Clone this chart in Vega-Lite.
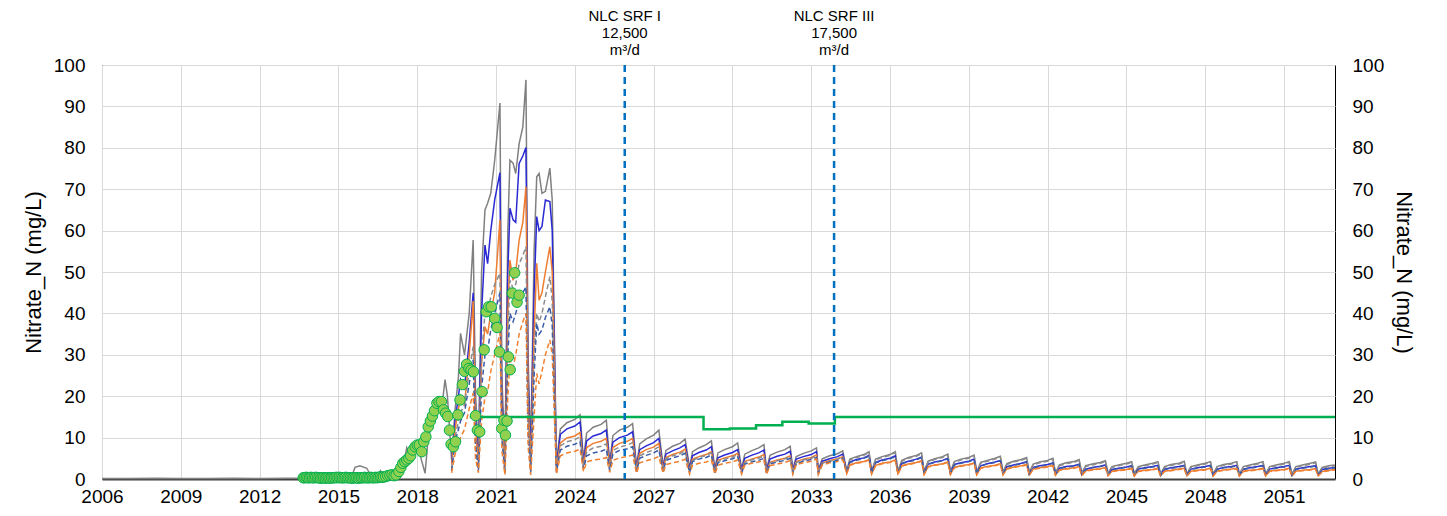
{
"$schema": "https://vega.github.io/schema/vega-lite/v6.json",
"width": 1233, "height": 414,
"autosize": {"type": "none"},
"padding": {"left": 102, "top": 65, "right": 112, "bottom": 37},
"background": "white",
"config": {
 "font": "Liberation Sans",
 "view": {"stroke": "#000000", "strokeWidth": 1},
 "axis": {"labelFont": "Liberation Sans", "labelFontSize": 19, "labelColor": "#000000", "titleFont": "Liberation Sans", "titleFontSize": 22, "titleFontWeight": "normal", "titleColor": "#000000", "gridColor": "#d9d9d9", "gridWidth": 1, "ticks": false, "tickSize": 0, "domain": false, "labelOverlap": false, "labelFlush": false}
},
"datasets": {
 "sim": [
  {"t":2006,"g":0.1},{"t":2007,"g":0.1},{"t":2008,"g":0.2},{"t":2009,"g":0.1},{"t":2010,"g":0.1},{"t":2011,"g":0.2},{"t":2012,"g":0.1},{"t":2013,"g":0.2},{"t":2014,"g":0.2},{"t":2015,"g":0.3},{"t":2015.5,"g":0.5},{"t":2015.63,"g":2.8},{"t":2015.82,"g":3.2},{"t":2016.08,"g":2.6},{"t":2016.2,"g":1.2},{"t":2016.4,"g":0.6},{"t":2016.52,"g":1.2},{"t":2016.6,"g":2.0},{"t":2016.7,"g":0.9},{"t":2016.9,"g":0.8},{"t":2017.1,"g":1.0},{"t":2017.25,"g":1.5},{"t":2017.4,"g":3.0},{"t":2017.5,"g":4.0},{"t":2017.6,"g":7.5},{"t":2017.7,"g":6.0},{"t":2017.85,"g":7.0},{"t":2017.98,"g":8.7},{"t":2018.1,"g":6.0},{"t":2018.3,"g":1.4},{"t":2018.42,"g":10.2},{"t":2018.52,"g":12.0},{"t":2018.62,"g":14.5},{"t":2018.72,"g":16.7},{"t":2018.82,"g":19.0},{"t":2018.93,"g":17.0},{"t":2019.06,"g":24.0},{"t":2019.15,"g":20.0},
  {"t":2019.31,"g":4.6,"b":4.0,"o":3.5,"gd":2.5,"bd":2.0,"od":1.5},
  {"t":2019.44,"g":16.7,"b":14,"o":12,"gd":10,"bd":9,"od":6},
  {"t":2019.57,"g":24.7,"b":20,"o":17,"gd":14,"bd":12,"od":8.5},
  {"t":2019.65,"g":35.2,"b":24,"o":20,"gd":16,"bd":14,"od":10},
  {"t":2019.8,"g":30,"b":22,"o":18,"gd":18,"bd":16,"od":12},
  {"t":2019.98,"g":40,"b":33,"o":30,"gd":26,"bd":23,"od":17},
  {"t":2020.13,"g":57.7,"b":45,"o":43,"gd":32,"bd":28.7,"od":20.8},
  {"t":2020.22,"g":20.8,"b":15,"o":12,"gd":10,"bd":8,"od":5},
  {"t":2020.33,"g":5.4,"b":4.5,"o":4.0,"gd":2.5,"bd":2.0,"od":1.5},
  {"t":2020.45,"g":50,"b":40,"o":28,"gd":30,"bd":22,"od":14},
  {"t":2020.58,"g":65,"b":56.5,"o":36.8,"gd":40,"bd":30,"od":19.8},
  {"t":2020.68,"g":66.6,"b":52,"o":35,"gd":40,"bd":31,"od":21},
  {"t":2020.8,"g":69,"b":60,"o":40,"gd":44,"bd":36,"od":26},
  {"t":2020.95,"g":77,"b":67.4,"o":45,"gd":47,"bd":40,"od":30},
  {"t":2021.15,"g":90.8,"b":74,"o":62.6,"gd":49.7,"bd":45,"od":35.3},
  {"t":2021.22,"g":25,"b":20,"o":15,"gd":12,"bd":10,"od":7},
  {"t":2021.34,"g":6.2,"b":4.5,"o":3.5,"gd":2,"bd":1.5,"od":1},
  {"t":2021.45,"g":60,"b":50,"o":40,"gd":35,"bd":30,"od":20},
  {"t":2021.53,"g":77,"b":65.4,"o":52.9,"gd":48,"bd":40,"od":28.7},
  {"t":2021.65,"g":76.3,"b":62.6,"o":48,"gd":46,"bd":38,"od":27},
  {"t":2021.75,"g":73.8,"b":62,"o":50,"gd":47,"bd":40,"od":30},
  {"t":2021.88,"g":81,"b":76.2,"o":57.7,"gd":52,"bd":43,"od":35},
  {"t":2022.02,"g":85,"b":78,"o":62,"gd":54,"bd":45,"od":38},
  {"t":2022.14,"g":96.4,"b":80.1,"o":70.6,"gd":56.1,"bd":46.4,"od":40},
  {"t":2022.22,"g":30,"b":25,"o":20,"gd":15,"bd":12,"od":8},
  {"t":2022.32,"g":6.2,"b":4.5,"o":3.0,"gd":2,"bd":1.5,"od":1},
  {"t":2022.45,"g":55,"b":45,"o":35,"gd":30,"bd":25,"od":15},
  {"t":2022.55,"g":73,"b":63.4,"o":52.1,"gd":40,"bd":37.6,"od":25.5},
  {"t":2022.64,"g":73.8,"b":60,"o":43.2,"gd":38,"bd":35,"od":23},
  {"t":2022.75,"g":69,"b":61,"o":45,"gd":40,"bd":36,"od":26},
  {"t":2022.88,"g":69.5,"b":67.4,"o":50,"gd":44,"bd":39,"od":30},
  {"t":2023.05,"g":75.1,"b":67,"o":56.1,"gd":48.9,"bd":41.6,"od":33.6},
  {"t":2023.14,"g":67.4,"b":60,"o":50,"gd":43,"bd":37,"od":30},
  {"t":2023.3,"g":3.8,"b":3.2,"o":2.6,"gd":2.0,"bd":1.6,"od":1.2},
  {"t":2023.45,"g":12.1,"b":10.8,"o":8.7,"gd":8.0,"bd":7.0,"od":5.6},
  {"t":2023.7,"g":13.6,"b":12.1,"o":9.9,"gd":9.0,"bd":7.9,"od":6.3},
  {"t":2024.0,"g":14.4,"b":12.8,"o":10.4,"gd":9.5,"bd":8.4,"od":6.7},
  {"t":2024.2,"g":15.5,"b":13.8,"o":11.2,"gd":10.2,"bd":9.0,"od":7.2},
  {"t":2024.33,"g":4.6,"b":4.0,"o":3.4,"gd":2.8,"bd":2.4,"od":1.8},
  {"t":2024.45,"g":11.1,"b":9.2,"o":7.6,"gd":6.6,"bd":5.6,"od":4.1},
  {"t":2024.7,"g":12.5,"b":10.4,"o":8.6,"gd":7.5,"bd":6.3,"od":4.6},
  {"t":2025.0,"g":13.2,"b":11.0,"o":9.1,"gd":7.9,"bd":6.7,"od":4.8},
  {"t":2025.2,"g":14.2,"b":11.8,"o":9.8,"gd":8.5,"bd":7.2,"od":5.2},
  {"t":2025.33,"g":3.8,"b":3.4,"o":3.0,"gd":2.4,"bd":2.0,"od":1.6},
  {"t":2025.45,"g":10.5,"b":8.9,"o":7.6,"gd":6.9,"bd":6.1,"od":4.5},
  {"t":2025.7,"g":11.8,"b":10.0,"o":8.6,"gd":7.7,"bd":6.9,"od":5.1},
  {"t":2026.0,"g":12.5,"b":10.6,"o":9.1,"gd":8.2,"bd":7.3,"od":5.4},
  {"t":2026.2,"g":13.4,"b":11.4,"o":9.8,"gd":8.8,"bd":7.8,"od":5.8},
  {"t":2026.35,"g":3.0,"b":2.8,"o":2.4,"gd":2.0,"bd":1.8,"od":1.4},
  {"t":2026.47,"g":8.5,"b":7.1,"o":6.2,"gd":5.6,"bd":5.0,"od":3.9},
  {"t":2026.72,"g":9.7,"b":8.0,"o":7.1,"gd":6.4,"bd":5.7,"od":4.4},
  {"t":2027.0,"g":10.6,"b":8.8,"o":7.7,"gd":7.0,"bd":6.3,"od":4.9},
  {"t":2027.2,"g":11.8,"b":9.8,"o":8.6,"gd":7.8,"bd":7.0,"od":5.4},
  {"t":2027.36,"g":3.0,"b":2.8,"o":2.4,"gd":2.0,"bd":1.8,"od":1.4},
  {"t":2027.47,"g":6.9,"b":6.0,"o":5.2,"gd":4.9,"bd":4.5,"od":3.5},
  {"t":2027.72,"g":7.9,"b":6.8,"o":5.9,"gd":5.6,"bd":5.1,"od":3.9},
  {"t":2028.0,"g":8.6,"b":7.5,"o":6.5,"gd":6.1,"bd":5.6,"od":4.3},
  {"t":2028.2,"g":9.6,"b":8.3,"o":7.2,"gd":6.8,"bd":6.2,"od":4.8},
  {"t":2028.37,"g":2.6,"b":2.4,"o":2.0,"gd":1.8,"bd":1.6,"od":1.2},
  {"t":2028.48,"g":6.6,"b":5.6,"o":4.8,"gd":4.5,"bd":4.2,"od":3.3},
  {"t":2028.72,"g":7.5,"b":6.4,"o":5.4,"gd":5.2,"bd":4.8,"od":3.8},
  {"t":2029.0,"g":8.3,"b":7.0,"o":5.9,"gd":5.7,"bd":5.2,"od":4.1},
  {"t":2029.2,"g":9.2,"b":7.8,"o":6.6,"gd":6.3,"bd":5.8,"od":4.6},
  {"t":2029.33,"g":2.4,"b":2.2,"o":1.8,"gd":1.7,"bd":1.5,"od":1.2},
  {"t":2029.45,"g":6.3,"b":5.1,"o":4.5,"gd":4.2,"bd":3.9,"od":3.3},
  {"t":2029.7,"g":7.1,"b":5.8,"o":5.1,"gd":4.8,"bd":4.4,"od":3.8},
  {"t":2030.0,"g":7.8,"b":6.4,"o":5.6,"gd":5.3,"bd":4.9,"od":4.1},
  {"t":2030.2,"g":8.7,"b":7.1,"o":6.2,"gd":5.9,"bd":5.4,"od":4.6},
  {"t":2030.35,"g":2.4,"b":2.2,"o":1.8,"gd":1.7,"bd":1.5,"od":1.2},
  {"t":2030.47,"g":6.0,"b":5.0,"o":4.2,"gd":4.0,"bd":3.6,"od":3.3},
  {"t":2030.72,"g":6.8,"b":5.7,"o":4.8,"gd":4.6,"bd":4.1,"od":3.8},
  {"t":2031.0,"g":7.5,"b":6.3,"o":5.3,"gd":5.0,"bd":4.5,"od":4.1},
  {"t":2031.2,"g":8.3,"b":7.0,"o":5.9,"gd":5.6,"bd":5.0,"od":4.6},
  {"t":2031.3,"g":2.3,"b":2.1,"o":1.7,"gd":1.6,"bd":1.4,"od":1.1},
  {"t":2031.43,"g":5.7,"b":4.8,"o":4.0,"gd":3.9,"bd":3.6,"od":3.2},
  {"t":2031.7,"g":6.5,"b":5.5,"o":4.6,"gd":4.4,"bd":4.1,"od":3.6},
  {"t":2032.0,"g":7.1,"b":6.0,"o":5.0,"gd":4.9,"bd":4.5,"od":4.0},
  {"t":2032.2,"g":7.9,"b":6.7,"o":5.6,"gd":5.4,"bd":5.0,"od":4.4},
  {"t":2032.3,"g":2.3,"b":2.1,"o":1.7,"gd":1.6,"bd":1.4,"od":1.1},
  {"t":2032.43,"g":5.4,"b":4.8,"o":4.2,"gd":4.0,"bd":3.7,"od":3.5},
  {"t":2032.7,"g":6.2,"b":5.4,"o":4.8,"gd":4.6,"bd":4.3,"od":3.9},
  {"t":2033.0,"g":6.8,"b":5.9,"o":5.2,"gd":5.0,"bd":4.7,"od":4.3},
  {"t":2033.2,"g":7.5,"b":6.6,"o":5.8,"gd":5.6,"bd":5.2,"od":4.8},
  {"t":2033.27,"g":2.2,"b":2.0,"o":1.6,"gd":1.5,"bd":1.4,"od":1.1},
  {"t":2033.42,"g":4.9,"b":4.3,"o":3.9,"gd":3.8,"bd":3.6,"od":3.4},
  {"t":2033.7,"g":5.6,"b":4.9,"o":4.4,"gd":4.3,"bd":4.1,"od":3.9},
  {"t":2034.0,"g":6.1,"b":5.4,"o":4.9,"gd":4.8,"bd":4.5,"od":4.2},
  {"t":2034.2,"g":6.8,"b":6.0,"o":5.4,"gd":5.3,"bd":5.0,"od":4.7},
  {"t":2034.35,"g":2.0,"b":1.8,"o":1.4,"gd":1.9,"bd":1.7,"od":1.3},
  {"t":2034.47,"g":4.8,"b":4.1,"o":3.4,"gd":4.6,"bd":4.0,"od":3.3},
  {"t":2034.72,"g":5.4,"b":4.7,"o":3.9,"gd":5.2,"bd":4.5,"od":3.8},
  {"t":2035.0,"g":5.9,"b":5.1,"o":4.2,"gd":5.7,"bd":5.0,"od":4.1},
  {"t":2035.2,"g":6.6,"b":5.7,"o":4.7,"gd":6.4,"bd":5.5,"od":4.6},
  {"t":2035.3,"g":1.9,"b":1.6,"o":1.3,"gd":1.8,"bd":1.5,"od":1.2},
  {"t":2035.45,"g":4.8,"b":4.0,"o":3.3,"gd":4.6,"bd":3.9,"od":3.2},
  {"t":2035.7,"g":5.4,"b":4.6,"o":3.8,"gd":5.2,"bd":4.4,"od":3.7},
  {"t":2036.0,"g":5.9,"b":5.0,"o":4.1,"gd":5.7,"bd":4.9,"od":4.0},
  {"t":2036.2,"g":6.6,"b":5.6,"o":4.6,"gd":6.4,"bd":5.4,"od":4.5},
  {"t":2036.3,"g":1.9,"b":1.6,"o":1.3,"gd":1.8,"bd":1.5,"od":1.2},
  {"t":2036.45,"g":4.5,"b":3.8,"o":3.2,"gd":4.3,"bd":3.7,"od":3.1},
  {"t":2036.7,"g":5.2,"b":4.3,"o":3.6,"gd":5.0,"bd":4.2,"od":3.5},
  {"t":2037.0,"g":5.7,"b":4.8,"o":4.0,"gd":5.5,"bd":4.6,"od":3.9},
  {"t":2037.2,"g":6.3,"b":5.3,"o":4.4,"gd":6.1,"bd":5.2,"od":4.3},
  {"t":2037.3,"g":1.8,"b":1.5,"o":1.2,"gd":1.7,"bd":1.4,"od":1.1},
  {"t":2037.45,"g":4.3,"b":3.6,"o":3.0,"gd":4.1,"bd":3.5,"od":2.9},
  {"t":2037.7,"g":4.9,"b":4.1,"o":3.4,"gd":4.7,"bd":4.0,"od":3.3},
  {"t":2038.0,"g":5.4,"b":4.5,"o":3.7,"gd":5.2,"bd":4.4,"od":3.6},
  {"t":2038.2,"g":6.0,"b":5.0,"o":4.1,"gd":5.8,"bd":4.9,"od":4.0},
  {"t":2038.3,"g":1.8,"b":1.5,"o":1.2,"gd":1.7,"bd":1.4,"od":1.1},
  {"t":2038.45,"g":4.2,"b":3.5,"o":2.8,"gd":4.0,"bd":3.4,"od":2.7},
  {"t":2038.7,"g":4.8,"b":3.9,"o":3.2,"gd":4.6,"bd":3.8,"od":3.1},
  {"t":2039.0,"g":5.2,"b":4.3,"o":3.5,"gd":5.0,"bd":4.2,"od":3.4},
  {"t":2039.2,"g":5.8,"b":4.8,"o":3.9,"gd":5.6,"bd":4.7,"od":3.8},
  {"t":2039.3,"g":1.7,"b":1.4,"o":1.1,"gd":1.6,"bd":1.3,"od":1.0},
  {"t":2039.45,"g":4.0,"b":3.2,"o":2.7,"gd":3.8,"bd":3.1,"od":2.6},
  {"t":2039.7,"g":4.5,"b":3.7,"o":3.0,"gd":4.3,"bd":3.6,"od":2.9},
  {"t":2040.0,"g":5.0,"b":4.1,"o":3.3,"gd":4.8,"bd":4.0,"od":3.2},
  {"t":2040.2,"g":5.5,"b":4.5,"o":3.7,"gd":5.3,"bd":4.4,"od":3.6},
  {"t":2040.3,"g":1.7,"b":1.4,"o":1.1,"gd":1.6,"bd":1.3,"od":1.0},
  {"t":2040.45,"g":3.7,"b":3.0,"o":2.5,"gd":3.5,"bd":2.9,"od":2.4},
  {"t":2040.7,"g":4.3,"b":3.4,"o":2.9,"gd":4.1,"bd":3.3,"od":2.8},
  {"t":2041.0,"g":4.7,"b":3.8,"o":3.2,"gd":4.5,"bd":3.7,"od":3.1},
  {"t":2041.2,"g":5.2,"b":4.2,"o":3.5,"gd":5.0,"bd":4.1,"od":3.4},
  {"t":2041.3,"g":1.6,"b":1.3,"o":1.0,"gd":1.5,"bd":1.2,"od":0.9},
  {"t":2041.45,"g":3.6,"b":2.8,"o":2.4,"gd":3.4,"bd":2.7,"od":2.3},
  {"t":2041.7,"g":4.1,"b":3.2,"o":2.7,"gd":3.9,"bd":3.1,"od":2.6},
  {"t":2042.0,"g":4.5,"b":3.5,"o":3.0,"gd":4.3,"bd":3.4,"od":2.9},
  {"t":2042.2,"g":5.0,"b":3.9,"o":3.3,"gd":4.8,"bd":3.8,"od":3.2},
  {"t":2042.3,"g":1.5,"b":1.2,"o":1.0,"gd":1.4,"bd":1.1,"od":0.9},
  {"t":2042.45,"g":3.4,"b":2.6,"o":2.2,"gd":3.2,"bd":2.5,"od":2.1},
  {"t":2042.7,"g":3.9,"b":3.0,"o":2.5,"gd":3.7,"bd":2.9,"od":2.4},
  {"t":2043.0,"g":4.2,"b":3.2,"o":2.7,"gd":4.0,"bd":3.1,"od":2.6},
  {"t":2043.2,"g":4.7,"b":3.6,"o":3.0,"gd":4.5,"bd":3.5,"od":2.9},
  {"t":2043.3,"g":1.5,"b":1.2,"o":0.9,"gd":1.4,"bd":1.1,"od":0.8},
  {"t":2043.45,"g":3.2,"b":2.4,"o":2.0,"gd":3.0,"bd":2.3,"od":1.9},
  {"t":2043.7,"g":3.6,"b":2.8,"o":2.3,"gd":3.4,"bd":2.7,"od":2.2},
  {"t":2044.0,"g":4.0,"b":3.1,"o":2.5,"gd":3.8,"bd":3.0,"od":2.4},
  {"t":2044.2,"g":4.4,"b":3.4,"o":2.8,"gd":4.2,"bd":3.3,"od":2.7},
  {"t":2044.3,"g":1.4,"b":1.1,"o":0.9,"gd":1.3,"bd":1.0,"od":0.8},
  {"t":2044.45,"g":3.0,"b":2.3,"o":1.9,"gd":2.8,"bd":2.2,"od":1.8},
  {"t":2044.7,"g":3.4,"b":2.6,"o":2.1,"gd":3.2,"bd":2.5,"od":2.0},
  {"t":2045.0,"g":3.8,"b":2.9,"o":2.3,"gd":3.6,"bd":2.8,"od":2.2},
  {"t":2045.2,"g":4.2,"b":3.2,"o":2.6,"gd":4.0,"bd":3.1,"od":2.5},
  {"t":2045.3,"g":1.3,"b":1.0,"o":0.8,"gd":1.2,"bd":0.9,"od":0.7},
  {"t":2045.45,"g":3.0,"b":2.4,"o":1.9,"gd":2.8,"bd":2.3,"od":1.8},
  {"t":2045.7,"g":3.4,"b":2.7,"o":2.1,"gd":3.2,"bd":2.6,"od":2.0},
  {"t":2046.0,"g":3.8,"b":3.0,"o":2.3,"gd":3.6,"bd":2.9,"od":2.2},
  {"t":2046.2,"g":4.2,"b":3.3,"o":2.6,"gd":4.0,"bd":3.2,"od":2.5},
  {"t":2046.3,"g":1.2,"b":1.0,"o":0.8,"gd":1.1,"bd":0.9,"od":0.7},
  {"t":2046.45,"g":3.0,"b":2.4,"o":1.9,"gd":2.8,"bd":2.3,"od":1.8},
  {"t":2046.7,"g":3.5,"b":2.7,"o":2.1,"gd":3.3,"bd":2.6,"od":2.0},
  {"t":2047.0,"g":3.8,"b":3.0,"o":2.4,"gd":3.6,"bd":2.9,"od":2.3},
  {"t":2047.2,"g":4.3,"b":3.3,"o":2.6,"gd":4.1,"bd":3.2,"od":2.5},
  {"t":2047.3,"g":1.2,"b":1.0,"o":0.8,"gd":1.1,"bd":0.9,"od":0.7},
  {"t":2047.45,"g":3.0,"b":2.4,"o":1.9,"gd":2.8,"bd":2.3,"od":1.8},
  {"t":2047.7,"g":3.4,"b":2.7,"o":2.1,"gd":3.2,"bd":2.6,"od":2.0},
  {"t":2048.0,"g":3.8,"b":3.0,"o":2.3,"gd":3.6,"bd":2.9,"od":2.2},
  {"t":2048.2,"g":4.2,"b":3.3,"o":2.6,"gd":4.0,"bd":3.2,"od":2.5},
  {"t":2048.3,"g":1.2,"b":1.0,"o":0.8,"gd":1.1,"bd":0.9,"od":0.7},
  {"t":2048.45,"g":3.0,"b":2.4,"o":1.9,"gd":2.8,"bd":2.3,"od":1.8},
  {"t":2048.7,"g":3.5,"b":2.8,"o":2.2,"gd":3.3,"bd":2.7,"od":2.1},
  {"t":2049.0,"g":3.8,"b":3.0,"o":2.4,"gd":3.6,"bd":2.9,"od":2.3},
  {"t":2049.2,"g":4.2,"b":3.3,"o":2.6,"gd":4.0,"bd":3.2,"od":2.5},
  {"t":2049.3,"g":1.2,"b":1.0,"o":0.8,"gd":1.1,"bd":0.9,"od":0.7},
  {"t":2049.45,"g":3.0,"b":2.4,"o":1.9,"gd":2.8,"bd":2.3,"od":1.8},
  {"t":2049.7,"g":3.4,"b":2.7,"o":2.1,"gd":3.2,"bd":2.6,"od":2.0},
  {"t":2050.0,"g":3.8,"b":3.0,"o":2.3,"gd":3.6,"bd":2.9,"od":2.2},
  {"t":2050.2,"g":4.2,"b":3.3,"o":2.6,"gd":4.0,"bd":3.2,"od":2.5},
  {"t":2050.3,"g":1.2,"b":1.0,"o":0.8,"gd":1.1,"bd":0.9,"od":0.7},
  {"t":2050.45,"g":3.0,"b":2.4,"o":1.9,"gd":2.8,"bd":2.3,"od":1.8},
  {"t":2050.7,"g":3.4,"b":2.7,"o":2.1,"gd":3.2,"bd":2.6,"od":2.0},
  {"t":2051.0,"g":3.8,"b":3.0,"o":2.3,"gd":3.6,"bd":2.9,"od":2.2},
  {"t":2051.2,"g":4.2,"b":3.3,"o":2.6,"gd":4.0,"bd":3.2,"od":2.5},
  {"t":2051.3,"g":1.2,"b":1.0,"o":0.8,"gd":1.1,"bd":0.9,"od":0.7},
  {"t":2051.45,"g":3.0,"b":2.4,"o":1.9,"gd":2.8,"bd":2.3,"od":1.8},
  {"t":2051.7,"g":3.4,"b":2.7,"o":2.1,"gd":3.2,"bd":2.6,"od":2.0},
  {"t":2052.0,"g":3.8,"b":3.0,"o":2.3,"gd":3.6,"bd":2.9,"od":2.2},
  {"t":2052.2,"g":4.1,"b":3.2,"o":2.5,"gd":3.9,"bd":3.1,"od":2.4},
  {"t":2052.3,"g":1.2,"b":1.0,"o":0.8,"gd":1.1,"bd":0.9,"od":0.7},
  {"t":2052.45,"g":2.8,"b":2.3,"o":1.8,"gd":2.6,"bd":2.2,"od":1.7},
  {"t":2052.7,"g":3.2,"b":2.6,"o":2.1,"gd":3.0,"bd":2.5,"od":2.0},
  {"t":2052.94,"g":3.4,"b":2.8,"o":2.3,"gd":3.2,"bd":2.7,"od":2.2}
 ],
 "obs": [
  {"t":2013.66,"v":0.3},{"t":2013.72,"v":0.3},{"t":2013.78,"v":0.4},{"t":2013.84,"v":0.3},{"t":2013.9,"v":0.3},{"t":2013.96,"v":0.4},{"t":2014.02,"v":0.3},{"t":2014.08,"v":0.3},{"t":2014.14,"v":0.4},{"t":2014.2,"v":0.3},{"t":2014.26,"v":0.3},{"t":2014.32,"v":0.2},{"t":2014.38,"v":0.3},{"t":2014.44,"v":0.3},{"t":2014.5,"v":0.2},{"t":2014.56,"v":0.3},{"t":2014.62,"v":0.3},{"t":2014.68,"v":0.2},{"t":2014.74,"v":0.3},{"t":2014.8,"v":0.3},{"t":2014.86,"v":0.3},{"t":2014.92,"v":0.4},{"t":2014.98,"v":0.3},{"t":2015.04,"v":0.4},{"t":2015.1,"v":0.3},{"t":2015.16,"v":0.3},{"t":2015.22,"v":0.3},{"t":2015.28,"v":0.4},{"t":2015.34,"v":0.3},{"t":2015.4,"v":0.3},{"t":2015.46,"v":0.3},{"t":2015.52,"v":0.2},{"t":2015.58,"v":0.3},{"t":2015.64,"v":0.3},{"t":2015.7,"v":0.3},{"t":2015.76,"v":0.2},{"t":2015.82,"v":0.3},{"t":2015.88,"v":0.3},{"t":2015.94,"v":0.3},{"t":2016.0,"v":0.4},{"t":2016.06,"v":0.3},{"t":2016.12,"v":0.3},{"t":2016.18,"v":0.3},{"t":2016.24,"v":0.4},{"t":2016.3,"v":0.3},{"t":2016.36,"v":0.3},{"t":2016.42,"v":0.4},{"t":2016.48,"v":0.3},{"t":2016.54,"v":0.4},{"t":2016.6,"v":0.5},{"t":2016.66,"v":0.4},{"t":2016.72,"v":0.5},{"t":2016.8,"v":0.6},{"t":2016.88,"v":0.8},{"t":2016.96,"v":0.9},{"t":2017.04,"v":1.0},{"t":2017.12,"v":0.8},
  {"t":2017.2,"v":1.0},{"t":2017.3,"v":1.8},{"t":2017.38,"v":2.8},{"t":2017.45,"v":3.8},{"t":2017.53,"v":4.2},{"t":2017.6,"v":4.6},{"t":2017.68,"v":5.0},{"t":2017.75,"v":5.6},{"t":2017.83,"v":7.0},{"t":2017.92,"v":7.8},{"t":2018.0,"v":8.2},{"t":2018.08,"v":8.2},{"t":2018.17,"v":6.6},{"t":2018.25,"v":9.0},{"t":2018.33,"v":10.2},{"t":2018.42,"v":12.6},{"t":2018.5,"v":14.0},{"t":2018.58,"v":15.2},{"t":2018.66,"v":16.5},{"t":2018.75,"v":18.3},{"t":2018.83,"v":18.7},{"t":2018.92,"v":18.7},{"t":2019.0,"v":16.7},{"t":2019.08,"v":15.9},{"t":2019.16,"v":15.1},{"t":2019.23,"v":11.8},{"t":2019.29,"v":8.4},{"t":2019.38,"v":7.8},{"t":2019.46,"v":9.0},{"t":2019.55,"v":15.5},{"t":2019.63,"v":19.1},{"t":2019.72,"v":22.8},{"t":2019.8,"v":26.0},{"t":2019.88,"v":27.7},{"t":2019.97,"v":26.7},{"t":2020.05,"v":26.3},{"t":2020.14,"v":25.9},{"t":2020.22,"v":15.3},{"t":2020.29,"v":11.8},{"t":2020.38,"v":11.4},{"t":2020.47,"v":21.1},{"t":2020.55,"v":31.2},{"t":2020.63,"v":40.4},{"t":2020.72,"v":41.6},{"t":2020.82,"v":41.6},{"t":2020.95,"v":38.8},{"t":2021.04,"v":36.6},{"t":2021.13,"v":30.7},{"t":2021.22,"v":12.2},{"t":2021.3,"v":14.2},{"t":2021.36,"v":10.6},{"t":2021.42,"v":14.0},{"t":2021.47,"v":29.5},{"t":2021.54,"v":26.4},{"t":2021.62,"v":44.9},{"t":2021.71,"v":49.8},{"t":2021.8,"v":42.7},{"t":2021.88,"v":44.4}
 ],
 "lim": [
  {"t":2020.0,"v":15},{"t":2028.9,"v":12},{"t":2029.9,"v":12.2},{"t":2030.9,"v":13},{"t":2031.9,"v":13.8},{"t":2032.9,"v":13.4},{"t":2033.9,"v":15},{"t":2052.94,"v":15}
 ],
 "ann": [
  {"t":2025.9,"v":100,"label":"NLC SRF I\n12,500\nm³/d"},
  {"t":2033.87,"v":100,"label":"NLC SRF III\n17,500\nm³/d"}
 ]
},
"resolve": {"axis": {"y": "independent"}},
"encoding": {
 "x": {"field": "t", "type": "quantitative", "scale": {"domain": [2006, 2052.94], "nice": false, "zero": false},
       "axis": {"values": [2006,2009,2012,2015,2018,2021,2024,2027,2030,2033,2036,2039,2042,2045,2048,2051], "format": "d", "grid": true, "domain": true, "domainColor": "#404040", "domainWidth": 2, "labelPadding": 8, "title": null}}
},
"layer": [
 {
  "encoding": {
   "y": {"field": "v", "type": "quantitative", "scale": {"domain": [0, 100], "nice": false},
         "axis": {"values": [0,10,20,30,40,50,60,70,80,90,100], "grid": true, "labelPadding": 17, "title": "Nitrate_N (mg/L)", "titlePadding": 8}}
  },
  "layer": [
   {"data": {"name": "sim"}, "transform": [{"fold": ["g"], "as": ["k", "v"]}], "mark": {"type": "line", "color": "#808080", "strokeWidth": 1.5}},
   {"data": {"name": "sim"}, "transform": [{"fold": ["b"], "as": ["k", "v"]}], "mark": {"type": "line", "color": "#2a2ad4", "strokeWidth": 1.5}},
   {"data": {"name": "sim"}, "transform": [{"fold": ["o"], "as": ["k", "v"]}], "mark": {"type": "line", "color": "#ed7d31", "strokeWidth": 1.5}},
   {"data": {"name": "sim"}, "transform": [{"fold": ["gd"], "as": ["k", "v"]}], "mark": {"type": "line", "color": "#8c8c8c", "strokeWidth": 1.5, "strokeDash": [5, 3]}},
   {"data": {"name": "sim"}, "transform": [{"fold": ["bd"], "as": ["k", "v"]}], "mark": {"type": "line", "color": "#3a5ba8", "strokeWidth": 1.5, "strokeDash": [5, 3]}},
   {"data": {"name": "sim"}, "transform": [{"fold": ["od"], "as": ["k", "v"]}], "mark": {"type": "line", "color": "#f08030", "strokeWidth": 1.5, "strokeDash": [5, 3]}},
   {"data": {"name": "lim"}, "mark": {"type": "line", "color": "#00b050", "strokeWidth": 2.5, "interpolate": "step-after"}},
   {"data": {"name": "ann"}, "mark": {"type": "rule", "color": "#0070c0", "strokeWidth": 2.5, "strokeDash": [7, 5]}, "encoding": {"y2": {"datum": 0}}},
   {"data": {"name": "obs"}, "mark": {"type": "point", "filled": true, "size": 110, "fill": "#92d050", "stroke": "#00b050", "strokeWidth": 1, "opacity": 1}},
   {"data": {"name": "ann"}, "mark": {"type": "text", "lineBreak": "\n", "baseline": "bottom", "align": "center", "dy": -41, "fontSize": 15, "lineHeight": 17, "font": "Liberation Sans", "color": "#000000"}, "encoding": {"text": {"field": "label"}}}
  ]
 },
 {
  "data": {"name": "obs"},
  "mark": {"type": "point", "opacity": 0},
  "encoding": {
   "y": {"field": "v", "type": "quantitative", "scale": {"domain": [0, 100], "nice": false},
         "axis": {"orient": "right", "values": [0,10,20,30,40,50,60,70,80,90,100], "grid": false, "labelPadding": 17, "title": "Nitrate_N (mg/L)", "titlePadding": 8}}
  }
 }
]
}
